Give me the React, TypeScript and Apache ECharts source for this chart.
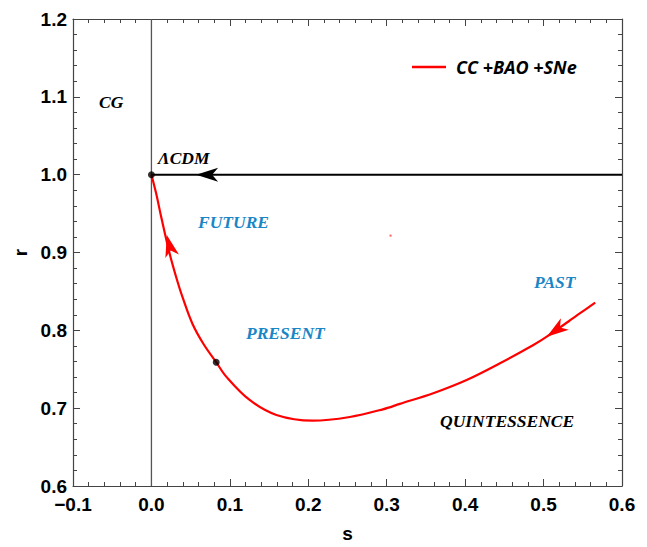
import React, { useEffect, useRef } from "react";
import * as echarts from "echarts";

// Red trajectory (s, r) for CC+BAO+SNe
const curveS = [0, 0.006, 0.0124, 0.023, 0.0315, 0.04, 0.0524, 0.0664, 0.0826, 0.0954, 0.1252, 0.1593, 0.2056, 0.2529, 0.295, 0.3167, 0.3593, 0.4019, 0.4444, 0.487, 0.5041, 0.5466, 0.5658];
const curveR = [1.0, 0.976, 0.946, 0.8995, 0.8686, 0.8416, 0.8082, 0.7825, 0.759, 0.7405, 0.7105, 0.6913, 0.6839, 0.6887, 0.6985, 0.7055, 0.7192, 0.7362, 0.7577, 0.7812, 0.7919, 0.822, 0.8356];

// LCDM horizontal line r = 1
const lcdmS = [0, 0.6];
const lcdmR = [1, 1];

// vertical s = 0 line
const vS = [0, 0];
const vR = [0.6, 1.2];

// points: LCDM fixed point and present-day point
const dotS = [0, 0.0826];
const dotR = [1.0, 0.759];

// stray small point
const strayS = [0.3049];
const strayR = [0.9217];

// arrow heads: [tipS, tipR, backS, backR]
const redArrows = [
  [0.0196, 0.9226, 0.0255, 0.899],
  [0.5041, 0.7919, 0.53, 0.81],
];
const blackArrows = [[0.057, 1.0, 0.087, 1.0]];

const xTicks = { min: -0.1, max: 0.6, interval: 0.1 };
const yTicks = { min: 0.6, max: 1.2, interval: 0.1 };

const zip = (a: number[], b: number[]) => a.map((v, i) => [v, b[i]]);

const fmt = (v: number) => {
  const s = v.toFixed(1);
  return s.startsWith("-") ? "\u2212" + s.slice(1) : s;
};

const arrowRender = (color: string) => (params: any, api: any) => {
  const tip = api.coord([api.value(0), api.value(1)]);
  const back = api.coord([api.value(2), api.value(3)]);
  let dx = tip[0] - back[0];
  let dy = tip[1] - back[1];
  const len = Math.sqrt(dx * dx + dy * dy) || 1;
  dx /= len;
  dy /= len;
  const L = 22, W = 7, N = 6;
  const bx = tip[0] - dx * L, by = tip[1] - dy * L;
  const nx = -dy, ny = dx;
  const pts = [
    [tip[0], tip[1]],
    [bx + nx * W, by + ny * W],
    [tip[0] - dx * (L - N), tip[1] - dy * (L - N)],
    [bx - nx * W, by - ny * W],
  ];
  return { type: "polygon", shape: { points: pts }, style: { fill: color } };
};

const axisLineStyle = { show: true, onZero: false, lineStyle: { color: "#444", width: 1.2 } };
const axisTickStyle = { show: true, inside: true, length: 7, lineStyle: { color: "#444", width: 1 } };
const minorTickStyle = { show: true, splitNumber: 5, length: 4, lineStyle: { color: "#444", width: 1 } };

const labelFont = {
  fontFamily: "Liberation Sans, Arial, sans-serif",
  fontWeight: "bold" as const,
  fontSize: 19,
  color: "#000",
};

const noteFont = (color: string) => ({
  font: "italic bold 17.5px 'Liberation Serif', 'Times New Roman', serif",
  fill: color,
});

const BLUE = "#1a86c6";

export default function App() {
  const ref = useRef<HTMLDivElement>(null);
  useEffect(() => {
    if (!ref.current) return;
    const chart = echarts.init(ref.current, undefined, { renderer: "svg" });
    chart.setOption({
      animation: false,
      backgroundColor: "#fff",
      grid: { left: 65, right: 25, top: 11, bottom: 61, outerBoundsMode: "none", containLabel: false },
      legend: {
        left: 399,
        top: 45,
        icon: "rect",
        itemWidth: 34,
        itemHeight: 2.5,
        data: ["CC +BAO +SNe"],
        textStyle: {
          fontFamily: "Open Sans, sans-serif",
          fontStyle: "italic",
          fontWeight: "bold",
          fontSize: 18,
          color: "#000",
          padding: [0, 0, 0, 5],
        },
      },
      xAxis: [
        {
          type: "value",
          ...xTicks,
          position: "bottom",
          name: "s",
          nameLocation: "middle",
          nameGap: 40,
          nameTextStyle: { ...labelFont, lineHeight: 14 },
          axisLine: axisLineStyle,
          axisTick: axisTickStyle,
          minorTick: minorTickStyle,
          splitLine: { show: false },
          minorSplitLine: { show: false },
          axisLabel: { ...labelFont, margin: 9, formatter: fmt },
        },
        {
          type: "value",
          ...xTicks,
          position: "top",
          axisLine: axisLineStyle,
          axisTick: axisTickStyle,
          minorTick: minorTickStyle,
          splitLine: { show: false },
          minorSplitLine: { show: false },
          axisLabel: { show: false },
        },
      ],
      yAxis: [
        {
          type: "value",
          ...yTicks,
          position: "left",
          name: "r",
          nameLocation: "middle",
          nameGap: 44,
          nameTextStyle: { ...labelFont, lineHeight: 14 },
          axisLine: axisLineStyle,
          axisTick: axisTickStyle,
          minorTick: minorTickStyle,
          splitLine: { show: false },
          minorSplitLine: { show: false },
          axisLabel: { ...labelFont, margin: 6, formatter: fmt },
        },
        {
          type: "value",
          ...yTicks,
          position: "right",
          axisLine: axisLineStyle,
          axisTick: axisTickStyle,
          minorTick: minorTickStyle,
          splitLine: { show: false },
          minorSplitLine: { show: false },
          axisLabel: { show: false },
        },
      ],
      series: [
        {
          type: "line",
          data: zip(vS, vR),
          symbol: "none",
          lineStyle: { color: "#555", width: 1.3 },
          silent: true,
          z: 1,
        },
        {
          type: "line",
          data: zip(lcdmS, lcdmR),
          symbol: "none",
          lineStyle: { color: "#000", width: 2 },
          z: 2,
        },
        {
          name: "CC +BAO +SNe",
          type: "line",
          data: zip(curveS, curveR),
          symbol: "none",
          smooth: 0.35,
          lineStyle: { color: "#ff0000", width: 2.2 },
          itemStyle: { color: "#ff0000" },
          z: 3,
        },
        {
          type: "custom",
          data: redArrows,
          encode: { x: [0, 2], y: [1, 3] },
          renderItem: arrowRender("#ff0000"),
          clip: false,
          z: 4,
        },
        {
          type: "custom",
          data: blackArrows,
          encode: { x: [0, 2], y: [1, 3] },
          renderItem: arrowRender("#000"),
          clip: false,
          z: 4,
        },
        {
          type: "scatter",
          data: zip(strayS, strayR),
          symbol: "rect",
          symbolSize: 2,
          itemStyle: { color: "#ff3333" },
          z: 5,
        },
        {
          type: "scatter",
          data: zip(dotS, dotR),
          symbolSize: 7,
          itemStyle: { color: "#000" },
          z: 6,
        },
      ],
      graphic: [
        { type: "text", left: 91, top: 85, style: { text: "CG", ...noteFont("#000") } },
        { type: "text", left: 150, top: 141, style: { text: "\u039BCDM", ...noteFont("#000") } },
        { type: "text", left: 190, top: 205, style: { text: "FUTURE", ...noteFont(BLUE) } },
        { type: "text", left: 238, top: 316, style: { text: "PRESENT", ...noteFont(BLUE) } },
        { type: "text", left: 526, top: 265, style: { text: "PAST", ...noteFont(BLUE) } },
        { type: "text", left: 432, top: 404, style: { text: "QUINTESSENCE", ...noteFont("#000") } },
      ],
    });
    return () => chart.dispose();
  }, []);
  return <div ref={ref} style={{ width: 639, height: 539 }} />;
}
